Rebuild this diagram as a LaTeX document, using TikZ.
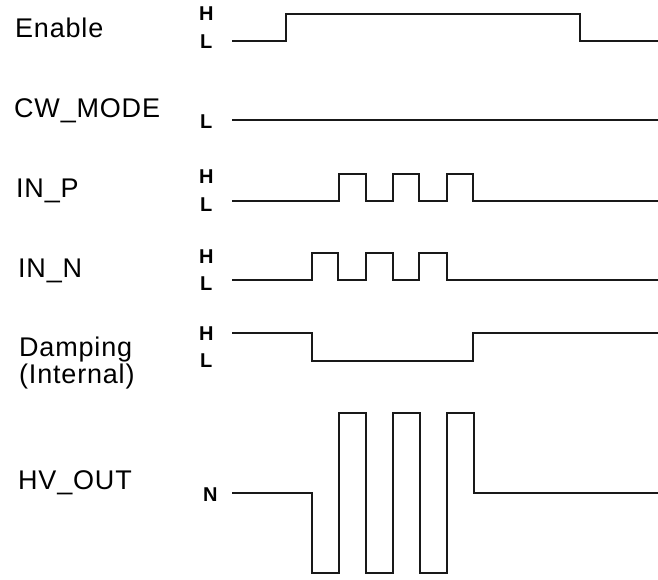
\documentclass[tikz,border=0pt]{standalone}
\usepackage{fontspec}
\setmainfont{Liberation Sans}
\newfontfamily\sigfont{Liberation Sans}[LetterSpace=3]
\newfontfamily\lvlfont{Liberation Sans Bold}
\begin{document}
\begin{tikzpicture}[x=1pt, y=-1pt,
  wave/.style={line width=2pt, line join=miter, black!90},
  signame/.style={anchor=base west, inner sep=0pt, font=\sigfont\fontsize{27}{31}\selectfont},
  level/.style={anchor=base west, inner sep=0pt, font=\lvlfont\fontsize{20}{23}\selectfont}]
\useasboundingbox (0,0) rectangle (658,579);

% signal names
\node[signame] (nEnable) at (15,37) {Enable};
\node[signame] (nCw) at (14,117) {CW\_MODE};
\node[signame] (nInP) at (16,197) {IN\_P};
\node[signame] (nInN) at (18,277) {IN\_N};
\node[signame] (nDamp) at (19,356) {Damping};
\node[signame] (nDampB) at (19,383) {(Internal)};
\node[signame] (nHv) at (18,489) {HV\_OUT};

% logic level markers
\node[level] (hEnable) at (199,20) {H};
\node[level] (lEnable) at (200,48) {L};
\node[level] (lCw) at (200,128) {L};
\node[level] (hInP) at (199,183) {H};
\node[level] (lInP) at (200,211) {L};
\node[level] (hInN) at (199,263) {H};
\node[level] (lInN) at (200,290) {L};
\node[level] (hDamp) at (199,340) {H};
\node[level] (lDamp) at (200,367) {L};
\node[level] (mHv) at (203,501) {N};

% waveforms
\draw[wave] (232,41) -- (286,41) -- (286,14) -- (580,14) -- (580,41) -- (658,41);
\draw[wave] (232,120) -- (658,120);
\draw[wave] (232,201) -- (339,201) -- (339,174) -- (366,174) -- (366,201)
  -- (393,201) -- (393,174) -- (419,174) -- (419,201)
  -- (447,201) -- (447,174) -- (473,174) -- (473,201) -- (658,201);
\draw[wave] (232,280) -- (312,280) -- (312,253) -- (338,253) -- (338,280)
  -- (366,280) -- (366,253) -- (393,253) -- (393,280)
  -- (419,280) -- (419,253) -- (447,253) -- (447,280) -- (658,280);
\draw[wave] (232,333) -- (312,333) -- (312,361) -- (473,361) -- (473,333) -- (658,333);
\draw[wave] (232,493) -- (312,493) -- (312,573) -- (339,573) -- (339,413) -- (366,413)
  -- (366,573) -- (393,573) -- (393,413) -- (420,413) -- (420,573)
  -- (447,573) -- (447,413) -- (474,413) -- (474,493) -- (658,493);
\end{tikzpicture}
\end{document}
